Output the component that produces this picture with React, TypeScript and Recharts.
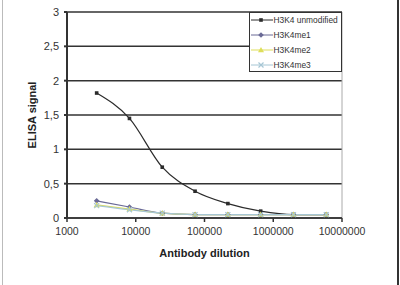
import { CartesianGrid, Line, LineChart, ReferenceLine, XAxis, YAxis } from 'recharts';

const dilutions = [2700, 8100, 24300, 72900, 218700, 656100, 1968300, 5904900];
const unmodified = [1.82, 1.45, 0.74, 0.39, 0.21, 0.1, 0.05, 0.05];
const me1 = [0.25, 0.16, 0.07, 0.05, 0.05, 0.05, 0.05, 0.05];
const me2 = [0.19, 0.13, 0.07, 0.05, 0.05, 0.05, 0.05, 0.05];
const me3 = [0.18, 0.12, 0.07, 0.05, 0.05, 0.05, 0.05, 0.05];
const xTicks = [1000, 10000, 100000, 1000000, 10000000];
const yTicks = [0, 0.5, 1, 1.5, 2, 2.5, 3];

const chartData = dilutions.map((d, i) => ({
  dilution: d,
  unmod: unmodified[i],
  me1: me1[i],
  me2: me2[i],
  me3: me3[i],
}));

const series = [
  { key: 'unmod', name: 'H3K4 unmodified', color: '#2b2b2b', marker: 'square' },
  { key: 'me1', name: 'H3K4me1', color: '#6a6a96', marker: 'diamond' },
  { key: 'me2', name: 'H3K4me2', color: '#dede5a', marker: 'triangle' },
  { key: 'me3', name: 'H3K4me3', color: '#a6c6d4', marker: 'cross' },
];

const marker = (type, x, y, color, k?) => {
  if (type === 'square') return <rect key={k} x={x - 1.8} y={y - 1.8} width={3.6} height={3.6} fill={color} />;
  if (type === 'diamond') return <path key={k} d={`M${x},${y - 2.8}L${x + 2.8},${y}L${x},${y + 2.8}L${x - 2.8},${y}Z`} fill={color} />;
  if (type === 'triangle') return <path key={k} d={`M${x},${y - 3}L${x + 3},${y + 2.2}L${x - 3},${y + 2.2}Z`} fill={color} />;
  return (
    <path key={k} d={`M${x - 2.5},${y - 2.5}L${x + 2.5},${y + 2.5}M${x + 2.5},${y - 2.5}L${x - 2.5},${y + 2.5}`} stroke={color} strokeWidth={1.2} />
  );
};

const font = 'Liberation Sans, Arial, sans-serif';

const LegendBox = () => (
  <div style={{ position: 'absolute', left: 249, top: 12, border: '1px solid #333', width: 93, height: 60, background: '#fff', boxSizing: 'border-box' }}>
    <svg width={91} height={58} style={{ display: 'block' }}>
      {series.map((s, i) => (
        <g key={s.key}>
          <line x1={1} x2={23} y1={7 + i * 15} y2={7 + i * 15} stroke={s.color} strokeWidth={1} />
          {marker(s.marker, 11, 7 + i * 15, s.color)}
          <text x={23.5} y={10 + i * 15} fontSize={8.4} fontFamily={font} fill="#333">
            {s.name}
          </text>
        </g>
      ))}
    </svg>
  </div>
);

const App = () => (
  <div style={{ position: 'absolute', left: 0, top: 0, width: 400, height: 285, background: '#fff', fontFamily: font }}>
    <div style={{ position: 'absolute', left: 2, top: 0, width: 1, height: 285, background: '#bbb' }} />
    <div style={{ position: 'absolute', left: 397, top: 0, width: 1.5, height: 285, background: '#333' }} />
    <LineChart width={400} height={285} data={chartData} margin={{ top: 12, right: 58, bottom: 37, left: 27 }}>
      <CartesianGrid vertical={false} stroke="#333" strokeWidth={1.5} />
      <ReferenceLine x={10000000} stroke="#aaa" strokeWidth={1} />
      <XAxis
        dataKey="dilution"
        type="number"
        scale="log"
        domain={[1000, 10000000]}
        ticks={xTicks}
        allowDataOverflow
        height={30}
        tickFormatter={(v) => String(v)}
        tick={{ fontSize: 10.5, fill: '#333', fontFamily: font }}
        tickSize={4}
        tickMargin={6}
        stroke="#333"
        strokeWidth={1.5}
        label={{ value: 'Antibody dilution', position: 'insideBottom', offset: -9, fontSize: 11, fontWeight: 'bold', fill: '#222', fontFamily: font }}
      />
      <YAxis
        type="number"
        domain={[0, 3]}
        ticks={yTicks}
        width={40}
        tickFormatter={(v) => String(v).replace('.', ',')}
        tick={{ fontSize: 11, fill: '#333', fontFamily: font }}
        tickSize={3}
        tickMargin={5}
        stroke="#333"
        strokeWidth={2}
        label={{ value: 'ELISA signal', angle: -90, position: 'insideLeft', offset: 0, dx: 5, style: { textAnchor: 'middle' }, fontSize: 11, fontWeight: 'bold', fill: '#222', fontFamily: font }}
      />
      {series.map((s) => (
        <Line
          key={s.key}
          dataKey={s.key}
          name={s.name}
          type="monotone"
          stroke={s.color}
          strokeWidth={1.2}
          isAnimationActive={false}
          activeDot={false}
          dot={(p) => marker(s.marker, p.cx, p.cy, s.color, `${s.key}-${p.index}`)}
        />
      ))}
    </LineChart>
    <LegendBox />
  </div>
);

export default App;
